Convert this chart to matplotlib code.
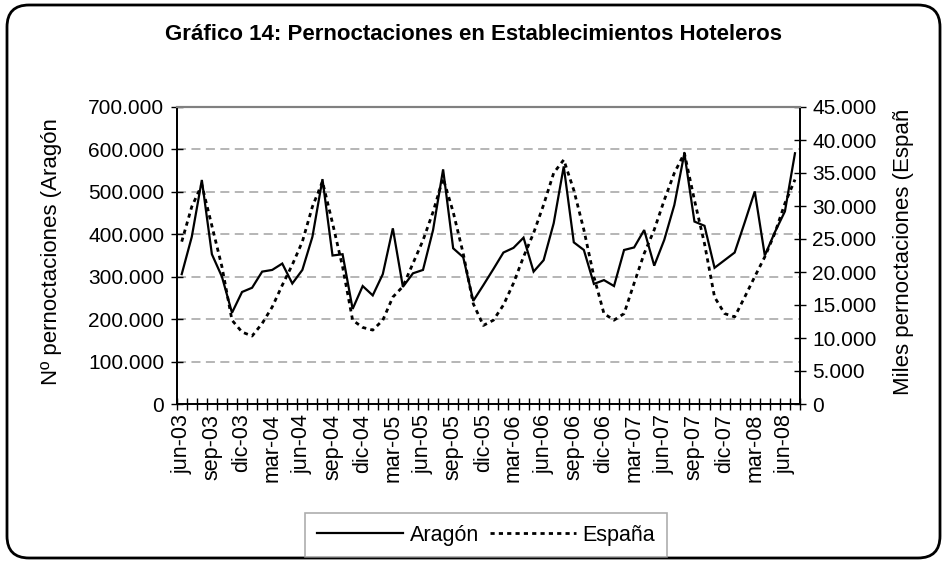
import numpy as np
import matplotlib
matplotlib.use("Agg")
import matplotlib.pyplot as plt
from matplotlib.patches import FancyBboxPatch
from matplotlib.lines import Line2D
from matplotlib.ticker import FuncFormatter, MultipleLocator

plt.rcParams['font.family'] = ['Liberation Sans', 'DejaVu Sans']

# monthly data jun-03 .. jul-08
aragon = [306, 394, 528, 353, 300, 215, 264, 274, 312, 316, 331, 284,
          316, 394, 530, 350, 353, 224, 278, 256, 306, 414, 276, 308,
          316, 410, 553, 367, 346, 243, 280, 318, 357, 368, 392, 312,
          339, 426, 560, 381, 363, 283, 292, 278, 363, 369, 410, 326,
          387, 469, 591, 430, 420, 321, 339, 357, 428, 501, 350, 405,
          454, 591]
aragon = np.array(aragon) * 1000  # pernoctaciones

espana = [24.6, 29.9, 33.2, 27.0, 20.8, 12.7, 10.9, 10.3, 12.2, 14.7, 18.0, 21.1,
          24.6, 29.9, 33.7, 27.4, 20.8, 12.7, 11.6, 11.2, 12.7, 16.2, 17.8, 21.3,
          24.8, 29.1, 34.2, 29.1, 22.8, 15.2, 11.9, 12.7, 15.0, 18.3, 22.3, 25.9,
          30.2, 35.0, 37.0, 32.4, 26.4, 19.3, 13.7, 12.7, 13.7, 18.3, 22.8, 26.4,
          30.9, 35.0, 38.0, 30.9, 24.3, 16.2, 13.7, 13.2, 16.2, 19.3, 22.3, 25.9,
          30.4, 34.0]
espana = np.array(espana) * 1000  # miles de pernoctaciones

tick_labels = ['jun-03', 'sep-03', 'dic-03', 'mar-04', 'jun-04', 'sep-04', 'dic-04',
               'mar-05', 'jun-05', 'sep-05', 'dic-05', 'mar-06', 'jun-06', 'sep-06',
               'dic-06', 'mar-07', 'jun-07', 'sep-07', 'dic-07', 'mar-08', 'jun-08']

W, H = 946, 563
fig = plt.figure(figsize=(W / 100, H / 100), dpi=100)
ax = fig.add_axes([176.7 / W, 1 - 404 / H, (800 - 176.7) / W, (404 - 107) / H])
ax2 = ax.twinx()

x = np.arange(len(aragon))
ax.plot(x, aragon, color='black', lw=1.6, solid_joinstyle='miter')
ax2.plot(x, espana, color='black', lw=2.0, ls=(0, (1.5, 1.5)))

ax.set_xlim(-0.5, len(x) - 0.5)
ax.set_ylim(0, 700000)
ax2.set_ylim(0, 45000)

dot = lambda v, p: f"{int(round(v)):,}".replace(',', '.')
ax.yaxis.set_major_locator(MultipleLocator(100000))
ax.yaxis.set_major_formatter(FuncFormatter(dot))
ax2.yaxis.set_major_locator(MultipleLocator(5000))
ax2.yaxis.set_major_formatter(FuncFormatter(dot))

ax.set_xticks(x[::3])
ax.set_xticklabels(tick_labels, rotation=90)
ax.set_xticks(np.arange(-0.5, len(x)), minor=True)
ax.tick_params(axis='x', which='major', length=0, labelsize=15.5, pad=7)
ax.tick_params(axis='x', which='minor', direction='inout', length=8, width=1)
ax.tick_params(axis='y', direction='inout', length=8, width=1, labelsize=15, pad=5)
ax2.tick_params(axis='y', direction='inout', length=8, width=1, labelsize=15, pad=5)

ax.yaxis.grid(True, ls=(0, (5, 3)), color='#b0b0b0', lw=1.3)
ax.set_axisbelow(True)

for a in (ax, ax2):
    for s in ('left', 'right', 'bottom'):
        a.spines[s].set_color('black')
        a.spines[s].set_linewidth(1.3)
    a.spines['top'].set_color('#808080')
    a.spines['top'].set_linewidth(1.5)

# title and axis labels (labels appear cut off in the original)
fig.text(0.5, 1 - 35 / H, 'Gráfico 14: Pernoctaciones en Establecimientos Hoteleros',
         ha='center', va='center', fontsize=16, fontweight='bold')

fig.text(52 / W, 1 - 385 / H, 'Nº pernoctaciones (Aragón', rotation=90,
         ha='center', va='bottom', fontsize=16)
fig.text(903 / W, 1 - 395 / H, 'Miles pernoctaciones (Españ', rotation=90,
         ha='center', va='bottom', fontsize=16)

handles = [Line2D([], [], color='black', lw=1.6),
           Line2D([], [], color='black', lw=2.0, ls=(0, (1.5, 1.5)))]
leg = fig.legend(handles, ['Aragón', 'España'], loc='center',
                 bbox_to_anchor=(486 / W, 1 - 535 / H), ncol=2, fontsize=15.5,
                 handlelength=4.0, handletextpad=0.3, columnspacing=0.5,
                 fancybox=False, edgecolor='#999999', borderpad=0.55)
leg.get_frame().set_linewidth(1.2)

border = FancyBboxPatch((0.07, 0.05), 9.33, 5.53, boxstyle='round,pad=0,rounding_size=0.22',
                        transform=fig.dpi_scale_trans, fill=False, ec='black', lw=2,
                        clip_on=False)
fig.patches.append(border)

fig.savefig('out.png', dpi=100)
